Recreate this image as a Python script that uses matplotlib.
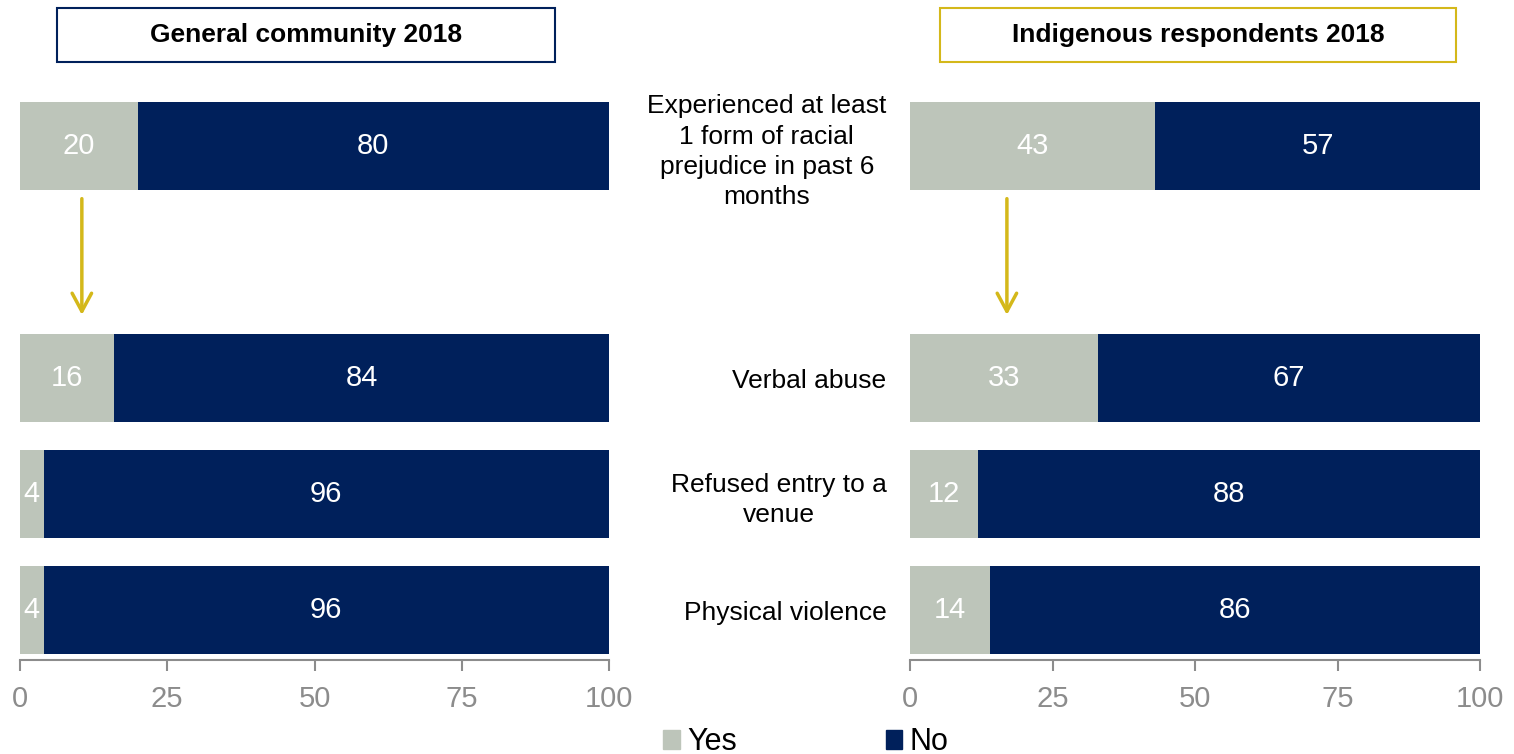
import matplotlib.pyplot as plt
from matplotlib.patches import Patch, FancyBboxPatch

plt.rcParams['font.family'] = ['Liberation Sans', 'DejaVu Sans']

# Survey data: share of respondents (%)
categories = [
    "Experienced at least\n1 form of racial\nprejudice in past 6\nmonths",
    "Verbal abuse",
    "Refused entry to a\nvenue",
    "Physical violence",
]
positions = [0, 2, 3, 4]  # empty slot between headline item and its breakdown

general_yes = [20, 16, 4, 4]
general_no = [80, 84, 96, 96]
indigenous_yes = [43, 33, 12, 14]
indigenous_no = [57, 67, 88, 86]

panel_titles = ["General community 2018", "Indigenous respondents 2018"]
arrow_x = [10.5, 17]

GREY = "#BDC5BA"
NAVY = "#00205B"
GOLD = "#D4B81A"
AXIS = "#8C8C8C"

W, H = 1514, 754
fig = plt.figure(figsize=(W / 100, H / 100), dpi=100)

ax_left = fig.add_axes([20 / W, 1 - 660 / H, 589 / W, 572 / H])
ax_right = fig.add_axes([910 / W, 1 - 660 / H, 570 / W, 572 / H])


def draw_panel(ax, yes, no, ax_x):
    ax.barh(positions, yes, height=0.76, color=GREY)
    ax.barh(positions, no, left=yes, height=0.76, color=NAVY)
    for p, y, n in zip(positions, yes, no):
        ax.text(y / 2, p, str(y), ha='center', va='center', color='white', fontsize=21)
        ax.text(y + n / 2, p, str(n), ha='center', va='center', color='white', fontsize=21)
    ax.set_xlim(0, 100)
    ax.set_ylim(4.43, -0.5)
    ax.set_xticks([0, 25, 50, 75, 100])
    ax.tick_params(axis='x', colors=AXIS, labelsize=21, length=8, width=1.5, pad=10)
    for side in ['top', 'right', 'left']:
        ax.spines[side].set_visible(False)
    ax.spines['bottom'].set_color(AXIS)
    ax.spines['bottom'].set_linewidth(1.5)
    # arrow from the headline bar down to the breakdown
    ax.annotate('', xy=(ax_x, 1.48), xytext=(ax_x, 0.43),
                arrowprops=dict(arrowstyle='->,head_length=1.3,head_width=0.7',
                                color=GOLD, lw=2.5))


draw_panel(ax_left, general_yes, general_no, arrow_x[0])
draw_panel(ax_right, indigenous_yes, indigenous_no, arrow_x[1])

ax_left.set_yticks([])
ax_right.set_yticks(positions)
ax_right.set_yticklabels(categories, fontsize=19, ha='right', multialignment='center',
                         linespacing=1.32)
ax_right.tick_params(axis='y', length=0, pad=17)

# panel title boxes
boxes = [(57, 555, NAVY), (940, 1456, GOLD)]
for (x0, x1, col), title in zip(boxes, panel_titles):
    rect = FancyBboxPatch((x0 / W, 1 - 62 / H), (x1 - x0) / W, 54 / H,
                          boxstyle='square,pad=0', transform=fig.transFigure,
                          facecolor='white', edgecolor=col, linewidth=1.5)
    fig.patches.append(rect)
    fig.text((x0 + x1) / 2 / W, 1 - 35 / H, title, ha='center', va='center',
             fontsize=19, fontweight='bold')

handles = [Patch(color=GREY, label='Yes'), Patch(color=NAVY, label='No')]
fig.legend(handles=handles, loc='center', ncol=2, frameon=False,
           bbox_to_anchor=(806 / W, 1 - 742 / H), fontsize=22,
           handlelength=0.55, handleheight=0.6, handletextpad=0.25,
           columnspacing=4.85)

fig.savefig('out.png', dpi=100)
